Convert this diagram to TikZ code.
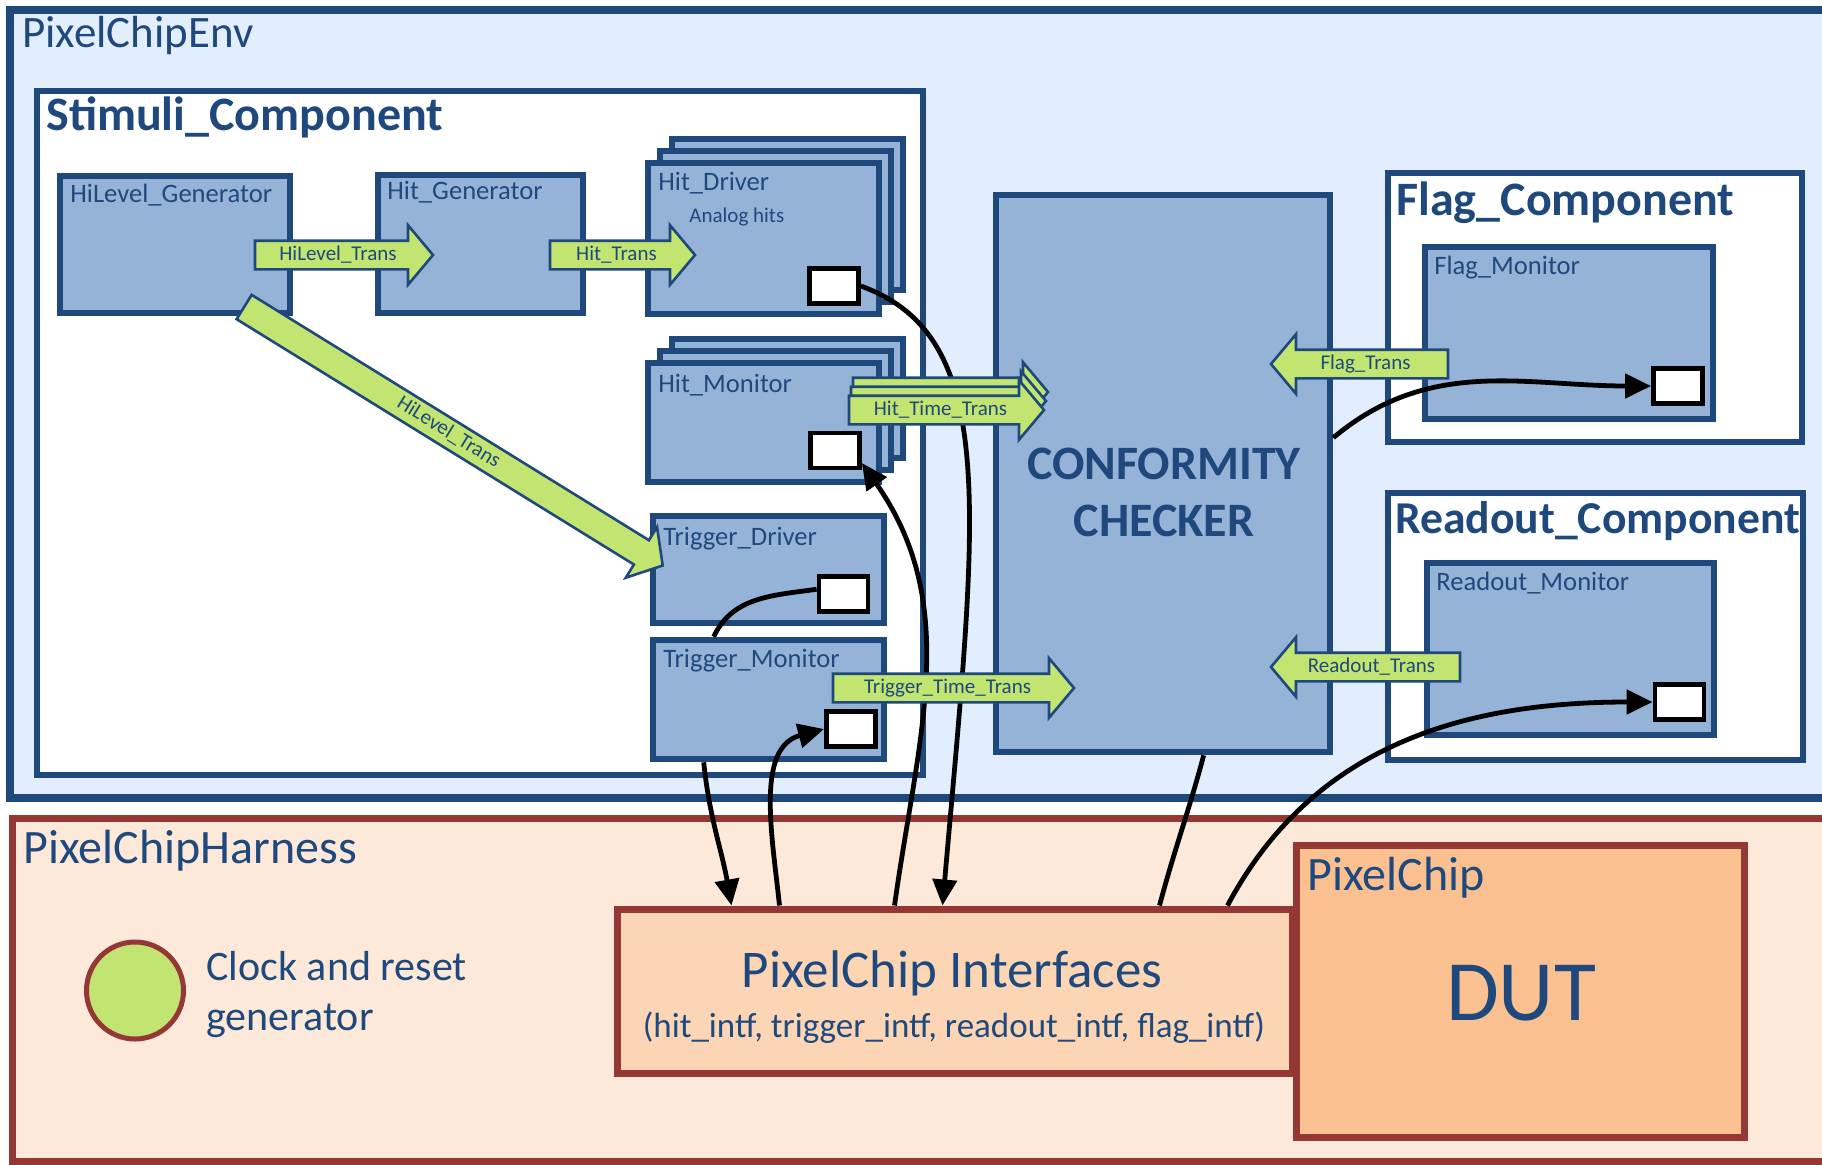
\documentclass[tikz,border=0pt]{standalone}
\usepackage{fontspec}
\setmainfont{Carlito}
\usepackage{tikz}
\usetikzlibrary{shapes.arrows, arrows.meta, positioning, calc}

\definecolor{envblue}{RGB}{226, 238, 253}
\definecolor{darkblue}{RGB}{31, 73, 125}
\definecolor{unitblue}{RGB}{149, 179, 215}
\definecolor{transgreen}{RGB}{194, 228, 112}
\definecolor{harnred}{RGB}{149, 55, 53}
\definecolor{harnfill}{RGB}{253, 233, 217}
\definecolor{ifcfill}{RGB}{252, 213, 181}
\definecolor{dutfill}{RGB}{250, 192, 144}

\tikzset{
  envbox/.style={draw=darkblue, fill=envblue, line width=3.8pt, inner sep=0pt},
  compbox/.style={draw=darkblue, fill=white, line width=3.3pt, inner sep=0pt},
  unitbox/.style={draw=darkblue, fill=unitblue, line width=3.3pt, inner sep=0pt},
  portbox/.style={draw=black, fill=white, line width=2.4pt, inner sep=0pt, minimum width=24.5pt, minimum height=17.5pt},
  harnbox/.style={draw=harnred, line width=3.5pt, inner sep=0pt},
  trans/.style={single arrow, draw=darkblue, fill=transgreen, line width=1.3pt, text=darkblue,
    font=\fontsize{10.5pt}{12pt}\selectfont, text height=7.5pt, text depth=2.5pt,
    inner ysep=1.5pt, inner xsep=2pt, single arrow head extend=7.75pt, single arrow tip angle=100},
  boxlabel/.style={anchor=base west, inner sep=0pt, text=darkblue, font=\fontsize{13.3pt}{15pt}\selectfont},
  comptitle/.style={anchor=base west, inner sep=0pt, text=darkblue, font=\fontsize{24pt}{28pt}\selectfont\bfseries},
  envtitle/.style={anchor=base west, inner sep=0pt, text=darkblue, font=\fontsize{24pt}{28pt}\selectfont},
  wire/.style={draw=black, line width=2.4pt},
  wirearrow/.style={wire, -{Triangle[length=13pt, width=12pt]}},
}

\begin{document}
\begin{tikzpicture}[x=0.5pt, y=0.5pt]
  \useasboundingbox (0,0) rectangle (1822,-1164);

  % Environment and harness
  \node[envbox, minimum width=920pt, minimum height=394pt] (env) at (930,-404) {};
  \node[envtitle, font=\fontsize{22.5pt}{26pt}\selectfont] (envt) at (22,-47) {PixelChipEnv};
  \node[harnbox, fill=harnfill, minimum width=919pt, minimum height=171.5pt] (harn) at (931,-989.5) {};
  \node[envtitle] (harnt) at (23,-863) {PixelChipHarness};

  % Components
  \node[compbox, minimum width=443pt, minimum height=342pt] (stim) at (480,-433) {};
  \node[comptitle] (stimt) at (46,-130) {Stimuli\_Component};
  \node[compbox, minimum width=207pt, minimum height=134.5pt] (flagcomp) at (1595,-307.5) {};
  \node[comptitle] (flagcompt) at (1396,-215) {Flag\_Component};
  \node[compbox, minimum width=207.5pt, minimum height=133.5pt] (rdcomp) at (1595.5,-626.5) {};
  \node[comptitle, font=\fontsize{22.8pt}{27pt}\selectfont\bfseries] (rdcompt) at (1395,-533) {Readout\_Component};

  % Stimuli units
  \node[unitbox, minimum width=115pt, minimum height=68.5pt] (hlgen) at (175,-244.5) {};
  \node[boxlabel] (hlgent) at (70,-202) {HiLevel\_Generator};
  \node[unitbox, minimum width=102.5pt, minimum height=69pt] (hitgen) at (480.5,-244) {};
  \node[boxlabel] (hitgent) at (387,-199) {Hit\_Generator};

  \node[unitbox, minimum width=115.5pt, minimum height=75.5pt] (hdrv3) at (787.5,-214.5) {};
  \node[unitbox, minimum width=115.5pt, minimum height=75.5pt] (hdrv2) at (775.5,-226.5) {};
  \node[unitbox, minimum width=115.5pt, minimum height=75.5pt] (hdrv) at (763.5,-238.5) {};
  \node[boxlabel] (hdrvt) at (658,-190) {Hit\_Driver};
  \node[boxlabel, font=\fontsize{10.5pt}{12pt}\selectfont] (analog) at (689,-222) {Analog hits};
  \node[portbox] (hdport) at (834,-286) {};

  \node[unitbox, minimum width=115.5pt, minimum height=59.5pt] (hmon3) at (787.5,-398.5) {};
  \node[unitbox, minimum width=115.5pt, minimum height=59.5pt] (hmon2) at (775.5,-410.5) {};
  \node[unitbox, minimum width=115.5pt, minimum height=59.5pt] (hmon) at (763.5,-422.5) {};
  \node[boxlabel] (hmont) at (658,-392) {Hit\_Monitor};
  \node[portbox] (hmport) at (835,-450.5) {};

  \node[unitbox, minimum width=115.5pt, minimum height=53.5pt] (tdrv) at (768.5,-569.5) {};
  \node[boxlabel] (tdrvt) at (663,-545) {Trigger\_Driver};
  \node[portbox] (tdport) at (843.5,-594) {};
  \node[unitbox, minimum width=115.5pt, minimum height=59.5pt] (tmon) at (768.5,-699.5) {};
  \node[boxlabel] (tmont) at (663,-667) {Trigger\_Monitor};
  \node[portbox] (tmport) at (851,-729) {};

  % Checker, flag and readout monitors
  \node[unitbox, minimum width=167pt, minimum height=278.5pt] (checker) at (1163,-473.5) {};
  \node[text=darkblue, align=center, font=\fontsize{24pt}{28.5pt}\selectfont\bfseries] (checkert) at (1164,-492) {CONFORMITY\\CHECKER};
  \node[unitbox, minimum width=144pt, minimum height=86pt] (flagmon) at (1569,-333) {};
  \node[boxlabel] (flagmont) at (1434,-274) {Flag\_Monitor};
  \node[portbox] (fmport) at (1678,-386) {};
  \node[unitbox, minimum width=143.5pt, minimum height=86pt] (rdmon) at (1570.5,-649) {};
  \node[boxlabel] (rdmont) at (1436,-590) {Readout\_Monitor};
  \node[portbox] (rmport) at (1679.5,-702) {};

  % Harness contents
  \node[circle, draw=harnred, fill=transgreen, line width=2.5pt, minimum size=48.5pt, inner sep=0pt] (clk) at (135,-990.5) {};
  \node[anchor=west, align=left, inner sep=0pt, text=darkblue, font=\fontsize{21pt}{25pt}\selectfont] (clkt) at (206,-995) {Clock and reset\\generator};
  \node[harnbox, fill=ifcfill, minimum width=337.5pt, minimum height=82pt] (ifc) at (954.5,-991) {};
  \node[anchor=base, inner sep=0pt, text=darkblue, font=\fontsize{26.5pt}{30pt}\selectfont] (ifct) at (952,-987) {PixelChip Interfaces};
  \node[anchor=base, inner sep=0pt, text=darkblue, font=\fontsize{17.5pt}{20pt}\selectfont] (ifcl) at (954,-1037) {(hit\_intf, trigger\_intf, readout\_intf, flag\_intf)};
  \node[harnbox, fill=dutfill, minimum width=224pt, minimum height=146pt] (dut) at (1520,-991) {};
  \node[envtitle] (dutt) at (1307,-890) {PixelChip};
  \node[anchor=base, inner sep=0pt, text=darkblue, font=\fontsize{43pt}{48pt}\selectfont] (dutl) at (1521,-1020) {DUT};

  % Wires
  \draw[wirearrow] ($(tmon.south west)+(54,0)$) to[out=-84, in=100] ($(ifc.north west)+(118,0)$);
  \draw[wirearrow] ($(ifc.north west)+(166,0)$) to[out=96, in=195] (tmport.west);
  \draw[wirearrow] ($(ifc.north west)+(281,0)$) to[out=82, in=-55] (hmport.-25);
  \draw[wirearrow] (hdport.east) to[out=-20, in=85, out looseness=0.61, in looseness=1.62] ($(ifc.north west)+(329,0)$);
  \draw[wire] (tdport.170) to[out=188, in=65] ($(tmon.north west)+(64,0)$);
  \draw[wire] ($(checker.south west)+(211,0)$) to[out=-105, in=75] ($(ifc.north west)+(546,0)$);
  \draw[wirearrow] ($(ifc.north west)+(614,0)$) to[out=62, in=180] (rmport.west);
  \draw[wirearrow] ($(checker.north east)+(0,-246)$) to[out=40, in=180] (fmport.west);

  % Transactions
  \node[trans, minimum height=89pt] (hltrans) at (338,-255) {HiLevel\_Trans};
  \node[trans, minimum height=72.5pt] (hittrans) at (616.5,-255) {Hit\_Trans};
  \node[trans, minimum height=246pt, rotate=-31.7] (hltrans2) at (448.3,-433.1) {HiLevel\_Trans};
  \node[trans, minimum height=97.5pt] (htt3) at (944.5,-392) {};
  \node[trans, minimum height=97.5pt] (htt2) at (942.5,-401) {};
  \node[trans, minimum height=97.5pt] (htt) at (940.5,-410) {Hit\_Time\_Trans};
  \node[trans, minimum height=120.5pt] (ttt) at (947.5,-688) {Trigger\_Time\_Trans};
  \node[trans, minimum height=88.5pt, shape border rotate=180] (flagtrans) at (1365.5,-364) {Flag\_Trans};
  \node[trans, minimum height=94.5pt, shape border rotate=180] (rdtrans) at (1371.5,-667) {Readout\_Trans};
\end{tikzpicture}
\end{document}
